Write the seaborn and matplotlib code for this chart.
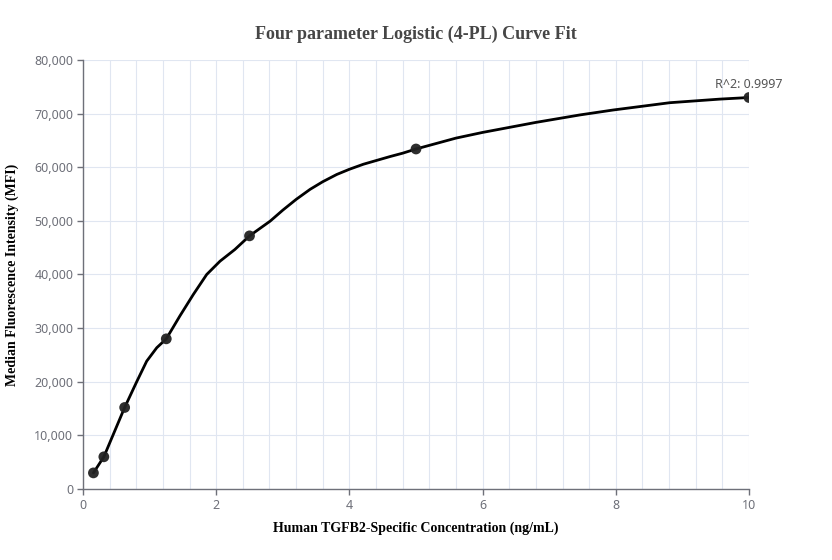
import numpy as np
import pandas as pd
import matplotlib
matplotlib.use('Agg')
import matplotlib.pyplot as plt
from matplotlib.ticker import MultipleLocator, FuncFormatter
import seaborn as sns

# measured standards
conc = [0.156, 0.3125, 0.625, 1.25, 2.5, 5.0, 10.0]
mfi = [3000, 6000, 15200, 28000, 47200, 63400, 73000]

# fitted curve
curve_x = [0.156, 0.3125, 0.625, 0.806, 0.956, 1.107, 1.25, 1.456, 1.656, 1.857, 2.057,
           2.28, 2.5, 2.81, 3.0, 3.2, 3.41, 3.6, 3.81, 4.0, 4.21, 4.4, 4.61, 4.8, 5.0,
           5.6, 6.0, 6.8, 7.46, 7.96, 8.81, 9.56, 10.0]
curve_y = [3000, 6000, 15200, 20000, 23840, 26340, 28000, 32300, 36270, 40000, 42480,
           44660, 47200, 49950, 52000, 54000, 55880, 57300, 58650, 59620, 60560, 61240,
           61990, 62620, 63400, 65430, 66490, 68360, 69750, 70670, 72030, 72700, 73000]

r2_label = 'R^2: 0.9997'

sns.set_style('white')
plt.rcParams['font.family'] = ['Noto Sans', 'DejaVu Sans']

fig = plt.figure(figsize=(8.32, 5.6), dpi=100)
ax = fig.add_axes([0.0998, 0.1268, 0.8004, 0.7661])

grid_c = '#e0e6f1'
axis_c = '#6e7079'

curve = pd.DataFrame({'x': curve_x, 'y': curve_y})
pts = pd.DataFrame({'x': conc, 'y': mfi})

sns.lineplot(data=curve, x='x', y='y', ax=ax, color='black', linewidth=2, sort=False, zorder=3)
sns.scatterplot(data=pts, x='x', y='y', ax=ax, color='#222222', s=60, edgecolor='none',
                alpha=0.95, zorder=4)

ax.set_xlim(0, 10)
ax.set_ylim(0, 80000)
ax.xaxis.set_major_locator(MultipleLocator(2))
ax.xaxis.set_minor_locator(MultipleLocator(0.4))
ax.yaxis.set_major_locator(MultipleLocator(10000))
ax.yaxis.set_major_formatter(FuncFormatter(lambda v, p: f'{int(v):,}'))

ax.grid(True, which='major', color=grid_c, linewidth=0.8, zorder=0)
ax.grid(True, which='minor', axis='x', color=grid_c, linewidth=0.8, zorder=0)
ax.set_axisbelow(True)

for s in ['top', 'right']:
    ax.spines[s].set_visible(False)
for s in ['left', 'bottom']:
    ax.spines[s].set_color(axis_c)
    ax.spines[s].set_linewidth(1)

ax.tick_params(axis='both', which='major', colors=axis_c, labelsize=9, length=4, width=1,
               direction='out', left=True, bottom=True, pad=3)
ax.tick_params(axis='x', which='minor', length=0)

ax.set_xlabel('Human TGFB2-Specific Concentration (ng/mL)', family='Liberation Serif',
              fontweight='bold', fontsize=10, color='black', labelpad=7)
ax.set_ylabel('Median Fluorescence Intensity (MFI)', family='Liberation Serif',
              fontweight='bold', fontsize=10, color='black', labelpad=11)
ax.set_title('Four parameter Logistic (4-PL) Curve Fit', family='Liberation Serif',
             fontweight='bold', fontsize=13, color='#464646', pad=15)

ax.annotate(r2_label, xy=(conc[-1], mfi[-1]), xytext=(0, 5), textcoords='offset points',
            ha='center', va='bottom', fontsize=9, color='#555555')

fig.savefig('out.png', dpi=100)
